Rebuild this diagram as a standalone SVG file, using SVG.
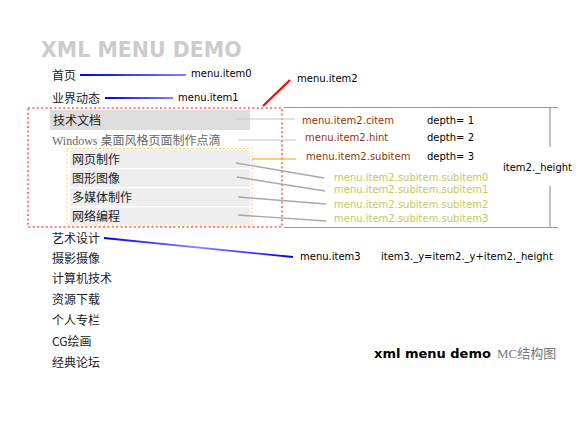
<svg xmlns="http://www.w3.org/2000/svg" width="587" height="425" viewBox="0 0 587 425">
<defs>
<linearGradient id="blue0" gradientUnits="userSpaceOnUse" x1="80" y1="0" x2="186" y2="0"><stop offset="0" stop-color="#0000ee"/><stop offset="1" stop-color="#8080ff"/></linearGradient>
<linearGradient id="blue1" gradientUnits="userSpaceOnUse" x1="105" y1="0" x2="173" y2="0"><stop offset="0" stop-color="#0000ee"/><stop offset="1" stop-color="#8080ff"/></linearGradient>
<linearGradient id="blueM" gradientUnits="userSpaceOnUse" x1="104" y1="238" x2="293" y2="257"><stop offset="0" stop-color="#0000ee"/><stop offset="0.5" stop-color="#8888ff"/><stop offset="1" stop-color="#0000ee"/></linearGradient>
<style>
.cn{font-family:"Noto Sans CJK SC","Noto Sans",sans-serif;font-size:12px;fill:#222}
.lb{font-family:"DejaVu Sans",sans-serif;font-size:10px;fill:#000}
.br{fill:#993300}
.ol{fill:#c8c85a}
.gl{stroke:#c8c8c8;stroke-width:1.2;fill:none}
.sl{stroke:#a8a8a8;stroke-width:1.4;fill:none}
.bk{stroke:#999;stroke-width:1.2;fill:none}
</style>
</defs>
<rect width="587" height="425" fill="#fff"/>
<text x="41" y="57" font-family="DejaVu Sans,sans-serif" font-weight="bold" font-size="20.5" fill="#cccccc">XML MENU DEMO</text>

<g id="frame">
<rect x="28" y="108" width="254" height="119" fill="none" stroke="#ff8080" stroke-width="2.2" stroke-dasharray="2 2.4"/>
<rect x="67" y="148.5" width="185" height="76.5" fill="none" stroke="#ffcc66" stroke-width="1" stroke-dasharray="2 2"/>
</g>

<g id="item0"><text class="cn" x="52" y="79.5">首页</text></g>
<g id="item1"><text class="cn" x="52" y="102.5">业界动态</text></g>
<g id="item2-citem"><rect x="50" y="110" width="200" height="20" fill="#dddddd"/><text class="cn" x="53" y="124.5">技术文档</text></g>
<g id="item2-hint"><text x="52" y="144.5" font-family="Liberation Serif,Noto Sans CJK SC,serif" font-size="12" fill="#666">Windows 桌面风格页面制作点滴</text></g>
<g id="subitem0"><rect x="70" y="150" width="180" height="18" fill="#eeeeee"/><text class="cn" x="72" y="163.5">网页制作</text></g>
<g id="subitem1"><rect x="70" y="169.5" width="180" height="17.5" fill="#eeeeee"/><text class="cn" x="72" y="182.5">图形图像</text></g>
<g id="subitem2"><rect x="70" y="188.5" width="180" height="17.5" fill="#eeeeee"/><text class="cn" x="72" y="201.5">多媒体制作</text></g>
<g id="subitem3"><rect x="70" y="207.5" width="180" height="16.5" fill="#eeeeee"/><text class="cn" x="72" y="220.5">网络编程</text></g>
<g id="item3"><text class="cn" x="52" y="242.5">艺术设计</text></g>
<g id="item4"><text class="cn" x="52" y="262.5">摄影摄像</text></g>
<g id="item5"><text class="cn" x="52" y="282.5">计算机技术</text></g>
<g id="item6"><text class="cn" x="52" y="303.5">资源下载</text></g>
<g id="item7"><text class="cn" x="52" y="324.5">个人专栏</text></g>
<g id="item8"><text class="cn" x="52" y="345.5">CG绘画</text></g>
<g id="item9"><text class="cn" x="52" y="366.5">经典论坛</text></g>

<g id="connectors">
<line x1="80" y1="75" x2="186" y2="75" stroke="url(#blue0)" stroke-width="2"/>
<line x1="105" y1="98" x2="173" y2="98" stroke="url(#blue1)" stroke-width="2"/>
<line x1="104" y1="238" x2="293" y2="257" stroke="url(#blueM)" stroke-width="1.8"/>
<line x1="263" y1="106" x2="290" y2="80" stroke="#ff0000" stroke-width="2.2"/>
<line class="gl" x1="236" y1="119" x2="295" y2="119"/>
<line class="gl" x1="238" y1="140" x2="296" y2="140"/>
<line x1="252" y1="159" x2="296" y2="159" stroke="#ff9900" stroke-width="1.2"/>
<line class="sl" x1="236" y1="163" x2="324" y2="178"/>
<line class="sl" x1="237" y1="177" x2="325" y2="191"/>
<line class="sl" x1="238" y1="197" x2="326" y2="204"/>
<line class="sl" x1="238" y1="215" x2="326" y2="221"/>
<line class="bk" x1="284" y1="107.5" x2="558" y2="107.5"/>
<line class="bk" x1="284" y1="227.5" x2="558" y2="227.5"/>
<line class="bk" x1="550" y1="107.5" x2="550" y2="147"/>
<line class="bk" x1="550" y1="186" x2="550" y2="227.5"/>
</g>

<g id="labels">
<text class="lb" x="191" y="77">menu.item0</text>
<text class="lb" x="178" y="101">menu.item1</text>
<text class="lb" x="297" y="82">menu.item2</text>
<text class="lb br" x="302" y="124">menu.item2.citem</text>
<text class="lb br" x="305" y="141">menu.item2.hint</text>
<text class="lb br" x="306" y="160">menu.item2.subitem</text>
<text class="lb" x="427" y="123.5">depth= 1</text>
<text class="lb" x="427" y="141">depth= 2</text>
<text class="lb" x="427" y="160">depth= 3</text>
<text class="lb" x="503" y="171">item2._height</text>
<text class="lb ol" x="334" y="180.5">menu.item2.subitem.subitem0</text>
<text class="lb ol" x="334" y="193">menu.item2.subitem.subitem1</text>
<text class="lb ol" x="334" y="207.5">menu.item2.subitem.subitem2</text>
<text class="lb ol" x="334" y="222">menu.item2.subitem.subitem3</text>
<text class="lb" x="300" y="260">menu.item3</text>
<text class="lb" x="381" y="260">item3._y=item2._y+item2._height</text>
</g>

<g id="caption">
<text x="374" y="358" font-family="DejaVu Sans,sans-serif" font-weight="bold" font-size="13" fill="#000">xml menu demo</text>
<text x="497" y="358" font-family="Liberation Serif,Noto Sans CJK SC,serif" font-size="13" fill="#777">MC结构图</text>
</g>
</svg>
